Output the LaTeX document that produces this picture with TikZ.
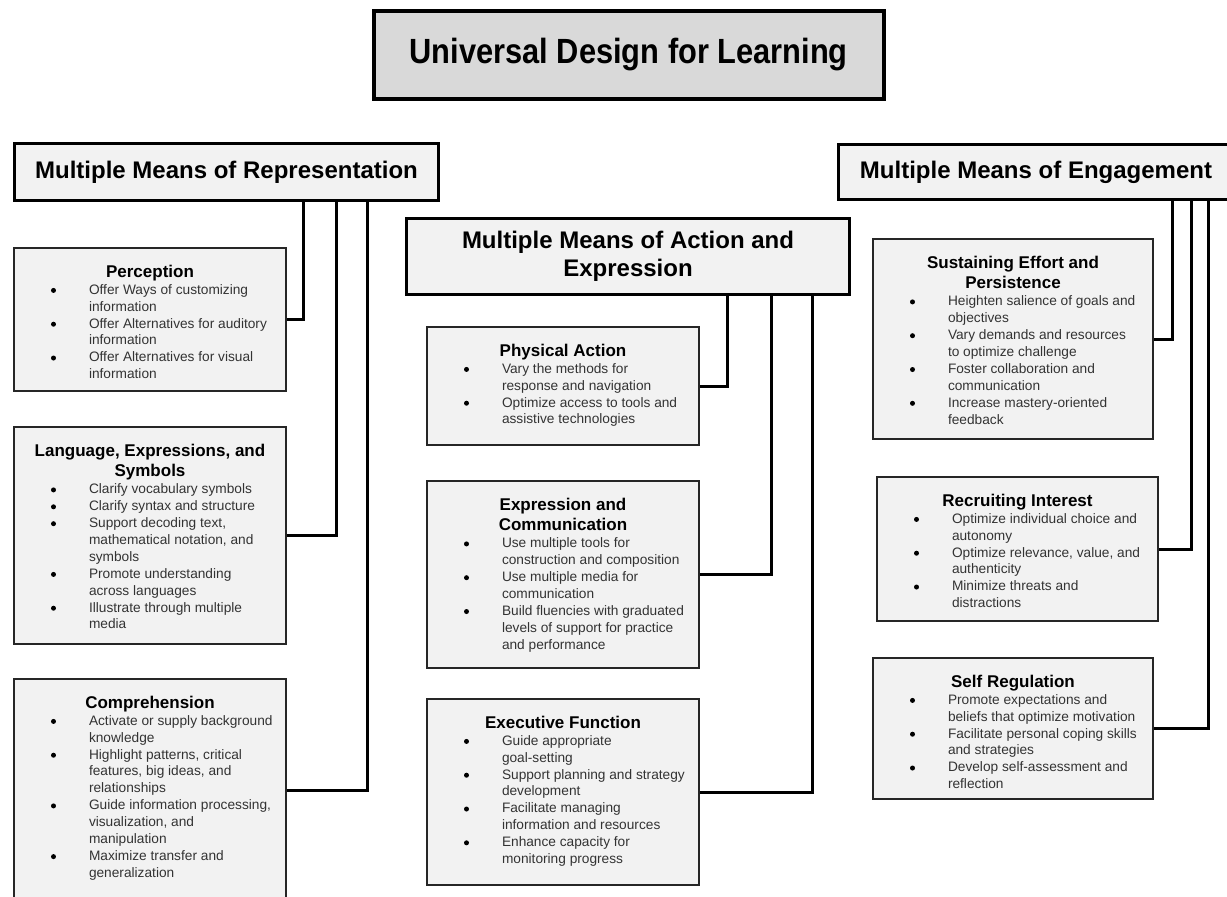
\documentclass[tikz,border=0pt]{standalone}
\usepackage{fontspec}
\setmainfont{Liberation Sans}
\usepackage{graphicx}

\definecolor{boxfill}{HTML}{F2F2F2}
\definecolor{titlefill}{HTML}{D9D9D9}
\definecolor{bodytext}{HTML}{333333}

% round dot for the list items
\newcommand{\udlbullet}{\tikz[baseline=0pt]\fill[black] (0pt,3.8pt) circle (2.5pt);}

% bullet list used inside the guideline boxes
\newenvironment{udlitems}{%
  \begin{list}{\udlbullet}{%
    \setlength\leftmargin{75pt}\setlength\labelwidth{75pt}\setlength\labelsep{0pt}%
    \setlength\itemsep{0pt}\setlength\parsep{0pt}\setlength\topsep{0pt}\setlength\partopsep{0pt}%
    \renewcommand\makelabel[1]{\hspace*{37pt}##1\hfill}}%
  \fontsize{13.7}{16.9}\selectfont\color{bodytext}\raggedright}
  {\end{list}}

% #1 width, #2 height, #3 heading, #4 items
\newcommand{\cardtext}[4]{%
  \parbox[c][#2pt][t]{#1pt}{\vspace*{17pt}%
    {\centering\fontsize{17}{20.5}\selectfont\bfseries #3\par}%
    \begin{udlitems}#4\end{udlitems}}}

\tikzset{
  udltitle/.style={draw, line width=3.5pt, fill=titlefill, anchor=north west, inner sep=0,
    minimum width=510, minimum height=88, font=\fontsize{35}{40}\selectfont\bfseries},
  means/.style={draw, line width=3pt, fill=boxfill, anchor=north west, inner sep=0, align=center,
    font=\fontsize{24}{28}\selectfont\bfseries},
  card/.style={draw=black!85, line width=2pt, fill=boxfill, anchor=north west, inner sep=0},
  link/.style={line width=3pt}
}

\begin{document}
\begin{tikzpicture}[x=1pt,y=-1pt]
    \useasboundingbox (0,0) rectangle (1227,897);
    \clip (0,0) rectangle (1227,897);

    \node[udltitle] (udl) at (372,9) {\scalebox{0.88}[1]{Universal Design for Learning}};

    % Representation
    \node[means, minimum width=424, minimum height=57] (rep) at (13,142) {Multiple Means of Representation};

    \node[card] (perc) at (13,247) {\cardtext{272}{143}{Perception}{%
        \item Offer Ways of customizing\\information
        \item Offer Alternatives for auditory\\information
        \item Offer Alternatives for visual\\information}};

    \node[card] (lang) at (13,426) {\cardtext{272}{217}{Language, Expressions, and\\Symbols}{%
        \item Clarify vocabulary symbols
        \item Clarify syntax and structure
        \item Support decoding text,\\mathematical notation, and\\symbols
        \item Promote understanding\\across languages
        \item Illustrate through multiple\\media}};

    \node[card] (comp) at (13,678) {\cardtext{272}{222}{Comprehension}{%
        \item Activate or supply background\\knowledge
        \item Highlight patterns, critical\\features, big ideas, and\\relationships
        \item Guide information processing,\\visualization, and\\manipulation
        \item Maximize transfer and\\generalization}};

    \foreach \card/\dx in {perc/290, lang/323, comp/354}
        \draw [link] ([xshift=\dx]rep.south west) |- (\card.east);

    % Action and Expression
    \node[means, minimum width=443, minimum height=76] (act) at (405,217) {Multiple Means of Action and\\Expression};

    \node[card] (phys) at (426,326) {\cardtext{272}{118}{Physical Action}{%
        \item Vary the methods for\\response and navigation
        \item Optimize access to tools and\\assistive technologies}};

    \node[card] (expr) at (426,480) {\cardtext{272}{187}{Expression and\\Communication}{%
        \item Use multiple tools for\\construction and composition
        \item Use multiple media for\\communication
        \item Build fluencies with graduated\\levels of support for practice\\and performance}};

    \node[card] (exec) at (426,698) {\cardtext{272}{186}{Executive Function}{%
        \item Guide appropriate\\goal-setting
        \item Support planning and strategy\\development
        \item Facilitate managing\\information and resources
        \item Enhance capacity for\\monitoring progress}};

    \foreach \card/\dx in {phys/322, expr/366, exec/407}
        \draw [link] ([xshift=\dx]act.south west) |- (\card.east);

    % Engagement
    \node[means, minimum width=395, minimum height=55] (eng) at (837,143) {Multiple Means of Engagement};

    \node[card] (sust) at (872,238) {\cardtext{280}{200}{Sustaining Effort and\\Persistence}{%
        \item Heighten salience of goals and\\objectives
        \item Vary demands and resources\\to optimize challenge
        \item Foster collaboration and\\communication
        \item Increase mastery-oriented\\feedback}};

    \node[card] (recr) at (876,476) {\cardtext{281}{144}{Recruiting Interest}{%
        \item Optimize individual choice and\\autonomy
        \item Optimize relevance, value, and\\authenticity
        \item Minimize threats and\\distractions}};

    \node[card] (selfr) at (872,657) {\cardtext{280}{141}{Self Regulation}{%
        \item Promote expectations and\\beliefs that optimize motivation
        \item Facilitate personal coping skills\\and strategies
        \item Develop self-assessment and\\reflection}};

    \foreach \card/\dx in {sust/335, recr/354, selfr/371}
        \draw [link] ([xshift=\dx]eng.south west) |- (\card.east);
\end{tikzpicture}
\end{document}
